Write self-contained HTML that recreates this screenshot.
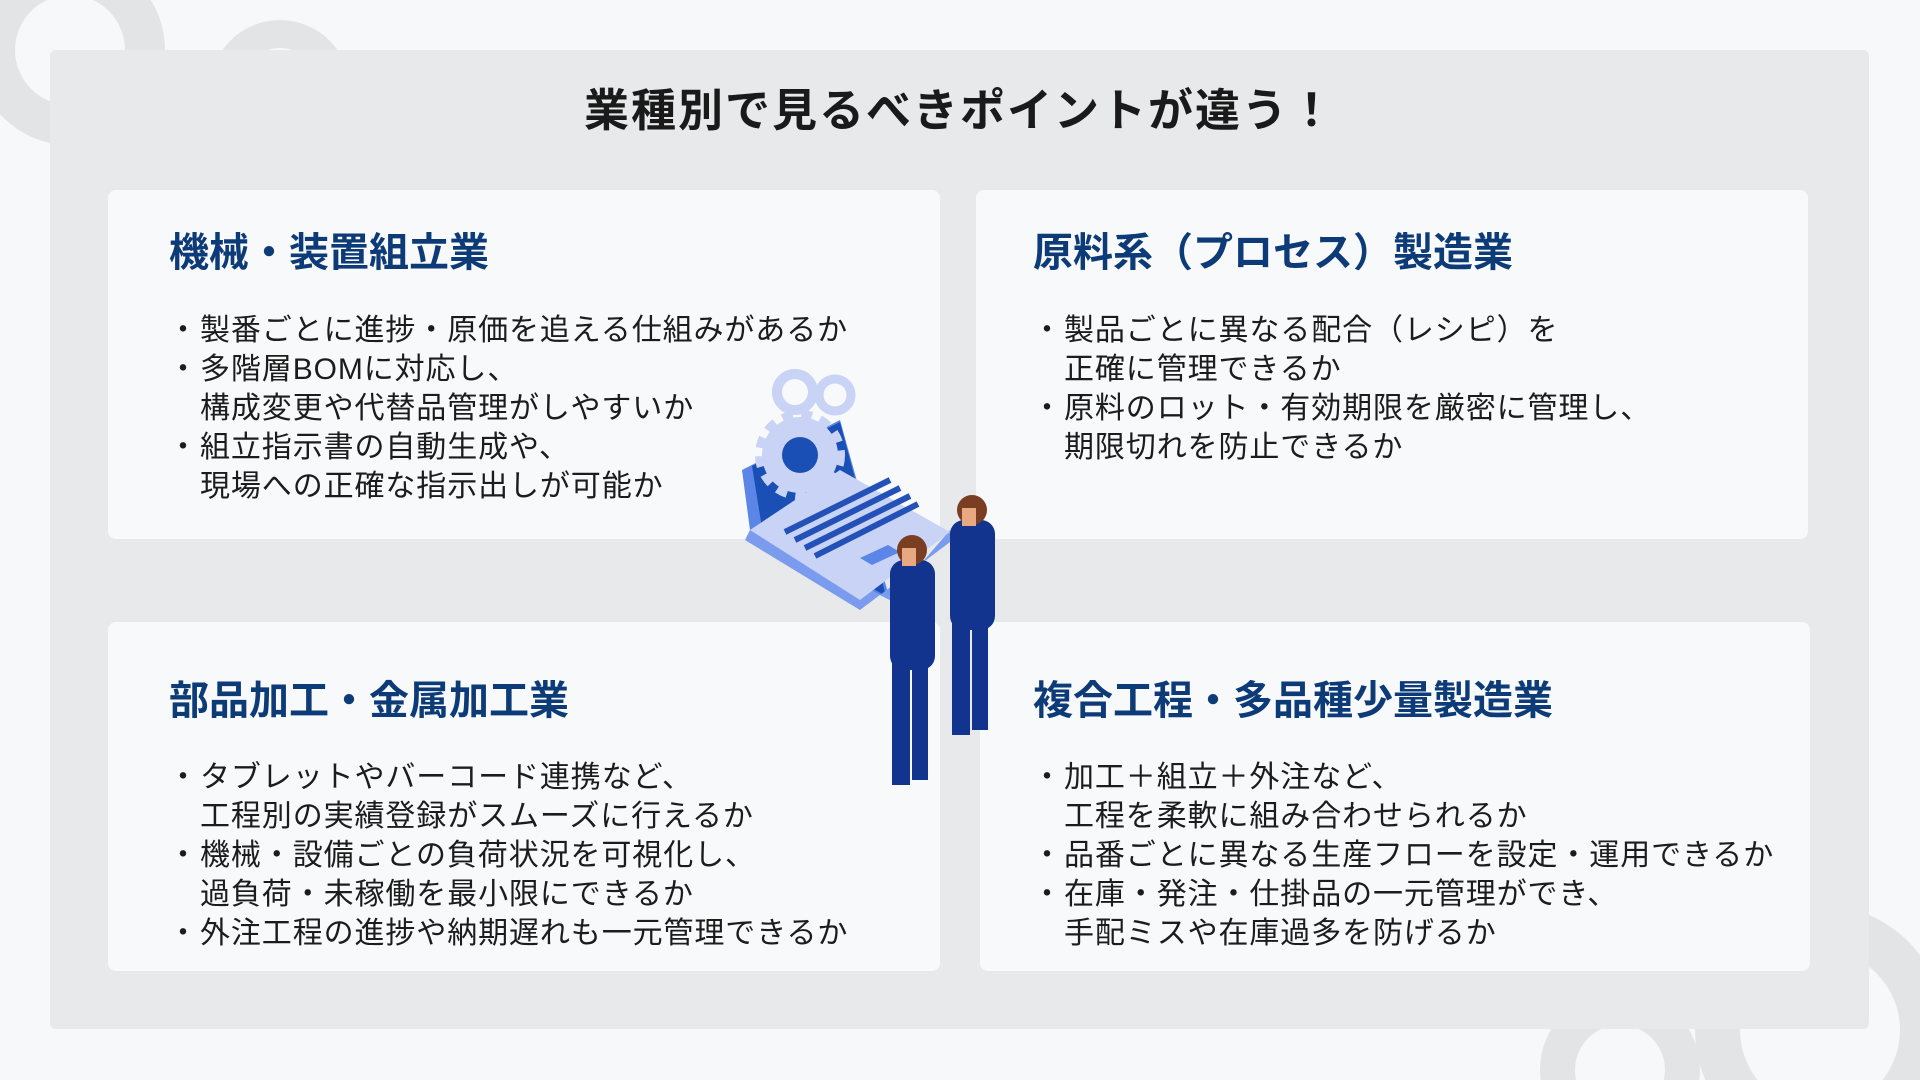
<!DOCTYPE html>
<html style="overflow:hidden"><head><meta charset="utf-8"><style>
html,body{overflow:hidden}
body{margin:0;width:1920px;height:1080px;background:#f7f8f9;position:relative;overflow:hidden;font-family:"Liberation Sans","Noto Sans CJK JP",sans-serif}
.panel{position:absolute;left:50px;top:50px;width:1819px;height:979px;background:#e8e9eb;border-radius:6px}
.title{position:absolute;left:0;width:1920px;top:74px;text-align:center;font-size:45px;font-weight:bold;color:#1a1a1a;letter-spacing:2px}
.card{position:absolute;background:#f8f9fa;border-radius:8px;width:832px;height:349px}
.card h2{position:absolute;left:61px;top:30px;margin:0;font-size:40px;font-weight:bold;color:#0d3b78;white-space:nowrap}
.card ul{position:absolute;left:92px;top:121px;margin:0;padding:0;list-style:none;font-size:30px;line-height:39px;color:#1c1c1c;letter-spacing:0.9px;white-space:nowrap}
.card li{position:relative}
.card li.b:before{content:"・";position:absolute;left:-32px}
svg{position:absolute}
</style></head><body>
<svg style="left:0;top:0" width="400" height="200" viewBox="0 0 400 200">
<g fill="#e3e4e6"><circle cx="70" cy="50" r="95"/><circle cx="280" cy="90" r="70"/></g>
<g fill="#f7f8f9"><circle cx="70" cy="50" r="55"/><circle cx="280" cy="90" r="42"/></g>
</svg>
<svg style="left:1500px;top:880px" width="420" height="200" viewBox="0 0 420 200">
<g fill="#e3e4e6"><circle cx="320" cy="150" r="125"/><circle cx="120" cy="190" r="80"/></g>
<g fill="#f7f8f9"><circle cx="320" cy="150" r="80"/><circle cx="120" cy="190" r="45"/></g>
</svg>
<div class="panel"></div>
<div class="title">業種別で見るべきポイントが違う！</div>
<div class="card" style="left:108px;top:190px"><h2>機械・装置組立業</h2>
<ul><li class="b">製番ごとに進捗・原価を追える仕組みがあるか</li><li class="b">多階層BOMに対応し、</li><li>構成変更や代替品管理がしやすいか</li><li class="b">組立指示書の自動生成や、</li><li>現場への正確な指示出しが可能か</li></ul></div>
<div class="card" style="left:976px;top:190px"><h2 style="left:57px">原料系（プロセス）製造業</h2>
<ul style="left:88px"><li class="b">製品ごとに異なる配合（レシピ）を</li><li>正確に管理できるか</li><li class="b">原料のロット・有効期限を厳密に管理し、</li><li>期限切れを防止できるか</li></ul></div>
<div class="card" style="left:108px;top:622px"><h2 style="top:46px">部品加工・金属加工業</h2>
<ul style="top:136px"><li class="b">タブレットやバーコード連携など、</li><li>工程別の実績登録がスムーズに行えるか</li><li class="b">機械・設備ごとの負荷状況を可視化し、</li><li>過負荷・未稼働を最小限にできるか</li><li class="b">外注工程の進捗や納期遅れも一元管理できるか</li></ul></div>
<div class="card" style="left:980px;top:622px;width:830px"><h2 style="left:53px;top:46px">複合工程・多品種少量製造業</h2>
<ul style="top:136px;left:84px"><li class="b">加工＋組立＋外注など、</li><li>工程を柔軟に組み合わせられるか</li><li class="b">品番ごとに異なる生産フローを設定・運用できるか</li><li class="b">在庫・発注・仕掛品の一元管理ができ、</li><li>手配ミスや在庫過多を防げるか</li></ul></div>
<svg style="left:740px;top:360px" width="290" height="440" viewBox="0 0 290 440">
<polygon points="2,110 100,60 150,240 10,170" fill="#5b86e8"/>
<polygon points="12,106 100,62 146,236 22,168" fill="#1a4fb5"/>
<polygon points="10,170 150,240 210,170 210,182 120,250 5,180" fill="#7b9cee"/>
<polygon points="10,170 120,240 210,172 100,110" fill="#c8d3f5"/>
<g stroke="#2451b8" stroke-width="6"><line x1="45" y1="172" x2="150" y2="120"/><line x1="55" y1="180" x2="160" y2="128"/><line x1="65" y1="188" x2="170" y2="136"/><line x1="75" y1="196" x2="178" y2="144"/></g>
<polygon points="120,198 148,185 160,192 132,205" fill="#5b86e8"/>
<circle cx="60" cy="95" r="38" fill="#c8d3f5" stroke="#c8d3f5" stroke-width="14" stroke-dasharray="10 8"/><circle cx="60" cy="95" r="18" fill="#1a4fb5"/>
<circle cx="55" cy="32" r="18" fill="none" stroke="#c8d3f5" stroke-width="10"/><circle cx="95" cy="35" r="16" fill="none" stroke="#c8d3f5" stroke-width="9"/>
<g fill="#12348f"><rect x="150" y="200" width="45" height="110" rx="14"/><rect x="152" y="300" width="18" height="125"/><rect x="172" y="300" width="16" height="120"/><rect x="210" y="160" width="45" height="110" rx="14"/><rect x="212" y="260" width="18" height="115"/><rect x="232" y="260" width="16" height="110"/></g>
<g fill="#7a3e22"><circle cx="172" cy="190" r="15"/><circle cx="232" cy="150" r="15"/></g>
<g fill="#e8a882"><rect x="162" y="188" width="14" height="18"/><rect x="222" y="148" width="14" height="18"/></g>
</svg>
</body></html>
